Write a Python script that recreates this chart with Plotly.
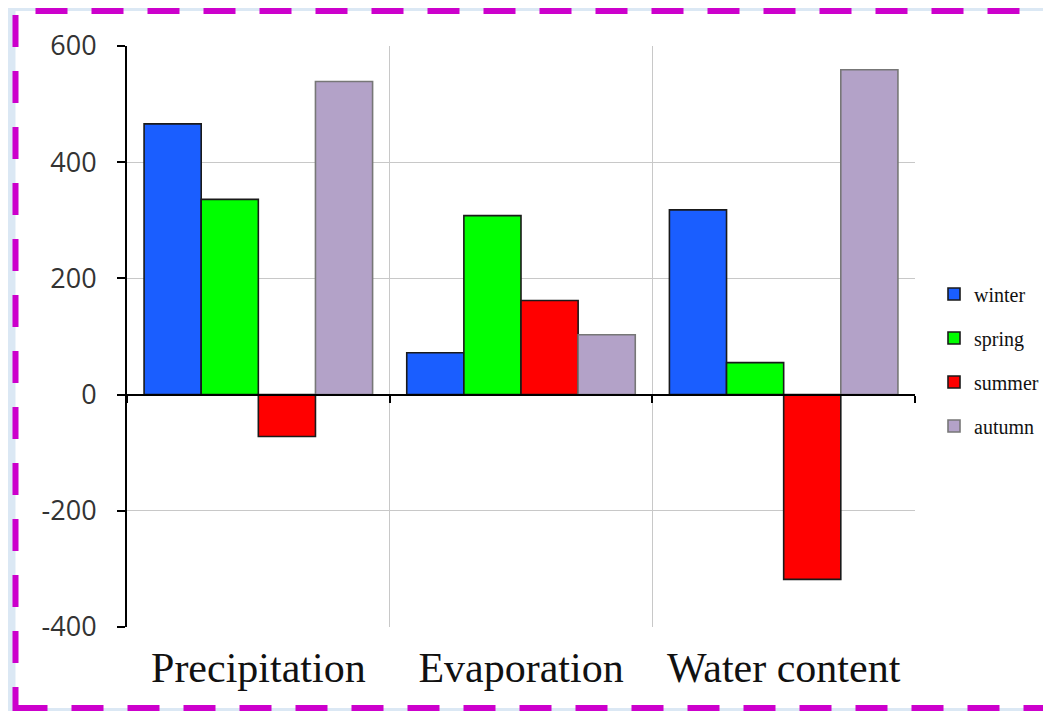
import plotly.graph_objects as go

categories = ["Precipitation", "Evaporation", "Water content"]
seasons = ["winter", "spring", "summer", "autumn"]
winter = [466, 72, 318]
spring = [336, 308, 55]
summer = [-72, 162, -318]
autumn = [539, 103, 559]
series = [winter, spring, summer, autumn]
y_ticks = [-400, -200, 0, 200, 400, 600]
y_tick_text = ["-400", "-200", "0", "200", "400", "600"]

fills = ["#1a5eff", "#00ff00", "#ff0000", "#b3a2c8"]
edges = ["#1a1a1a", "#1a1a1a", "#1a1a1a", "#777777"]

fig = go.Figure()
for name, vals, fc, ec in zip(seasons, series, fills, edges):
    fig.add_trace(go.Bar(
        x=categories, y=vals, name=name, legendgroup=name,
        marker=dict(color=fc, line=dict(color=ec, width=1.6)),
    ))

# invisible trace to host the zero-crossing axis with boundary ticks
fig.add_trace(go.Bar(x=categories, y=[0, 0, 0], xaxis="x2", showlegend=False,
                     hoverinfo="skip", marker=dict(color="rgba(0,0,0,0)")))

# page body has an 8px default margin; figure sits at (8, 8)
OFF = 8
PW, PH = 1051, 711
PL, PR, PT, PB = 127, 915, 46, 627  # plot area in page pixels
W, H = PW - OFF, PH - OFF
L, T = PL - OFF, PT - OFF
R, B = PW - PR, PH - PB
pw, ph = PR - PL, PB - PT

def px_x(p):
    return (p - PL) / pw

def px_y(p):
    return (PB - p) / ph

fig.update_layout(
    width=W, height=H,
    margin=dict(l=L, r=R, t=T, b=B, autoexpand=False),
    paper_bgcolor="#dbe8f4",
    plot_bgcolor="white",
    barmode="group",
    bargap=0.13,
    bargroupgap=0,
    showlegend=True,
    legend=dict(
        x=px_x(934), xanchor="left", y=px_y(360), yanchor="middle",
        font=dict(family="Liberation Serif", size=20, color="#111111"),
        traceorder="grouped", tracegroupgap=15,
        bgcolor="rgba(0,0,0,0)",
    ),
    xaxis=dict(
        type="category", tickson="boundaries", showgrid=True,
        gridcolor="#c8c8c8", gridwidth=1, ticks="", showline=False,
        tickfont=dict(family="Liberation Serif", size=42, color="#111111"),
        ticklabelstandoff=12, zeroline=False,
    ),
    xaxis2=dict(
        type="category", overlaying="x", matches="x", anchor="free",
        position=px_y(394.6), side="bottom", showline=True, linecolor="black",
        linewidth=2, ticks="outside", tickson="boundaries", ticklen=7,
        tickwidth=2, tickcolor="black", showticklabels=False, showgrid=False,
    ),
    yaxis=dict(
        range=[-400, 600], tickvals=y_ticks, ticktext=y_tick_text,
        showgrid=True, gridcolor="#c8c8c8",
        gridwidth=1, zeroline=False, showline=True, linecolor="black",
        linewidth=2, ticks="outside", ticklen=8, tickwidth=2, tickcolor="black",
        tickfont=dict(family="Open Sans", size=27, color="#333333"),
        ticklabelstandoff=15,
    ),
    shapes=[
        dict(type="rect", xref="paper", yref="paper", layer="below",
             x0=px_x(15.5), x1=px_x(1065), y0=px_y(708), y1=px_y(11),
             fillcolor="white",
             line=dict(color="#cc00cc", width=6, dash="32px,24px")),
    ],
)

fig.write_html("out.html")
